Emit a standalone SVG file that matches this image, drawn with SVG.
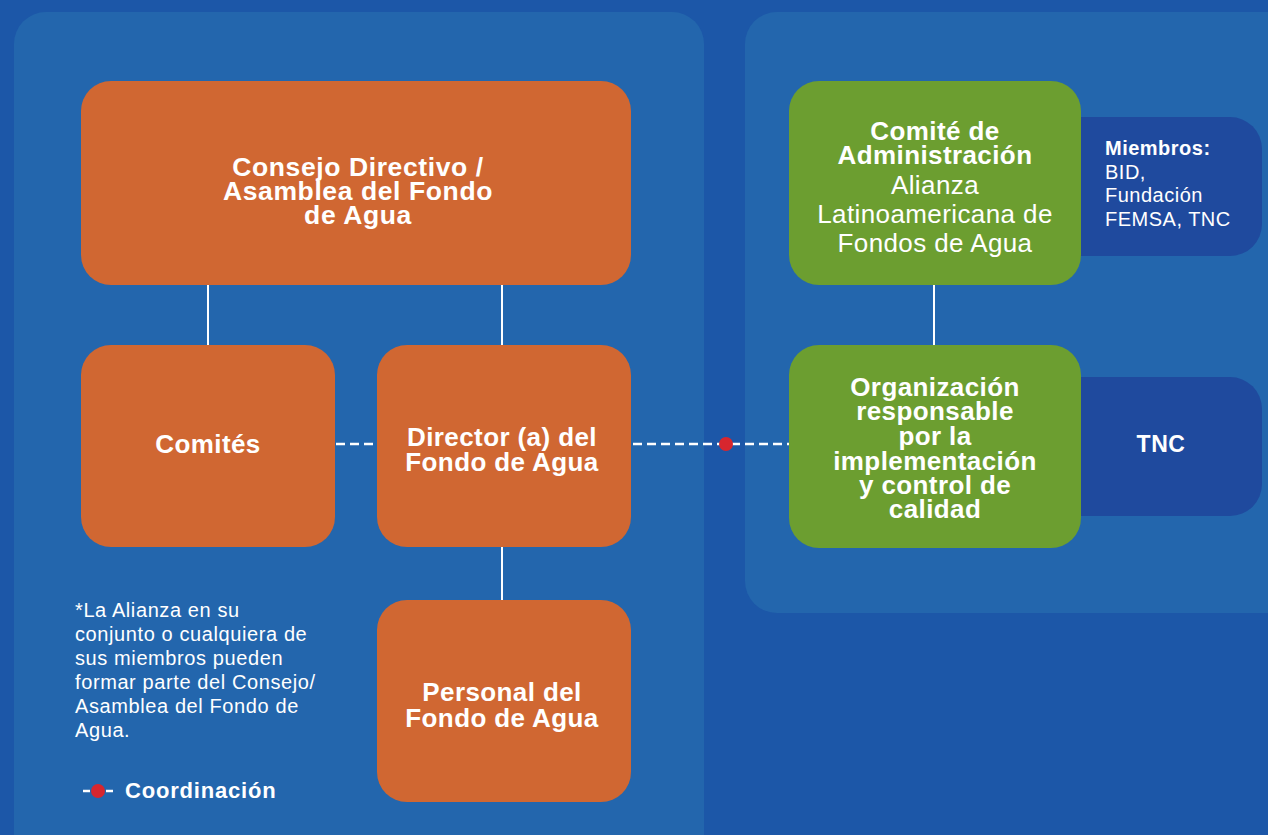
<svg xmlns="http://www.w3.org/2000/svg" width="1268" height="835" viewBox="0 0 1268 835">
<style>
.panel{fill:#2366ad}
.org{fill:#d06732}
.grn{fill:#6c9e30}
.dk{fill:#1f4a9e}
.t{font-family:"Liberation Sans",Arial,sans-serif;fill:#ffffff}
.b{font-weight:bold}
.c{text-anchor:middle}
.solid{stroke:#ffffff;stroke-width:2;fill:none}
.dash{stroke:#ffffff;stroke-width:2.5;fill:none;stroke-dasharray:9 5}
</style>
<rect x="0" y="0" width="1268" height="835" fill="#1c57a8"/>
<g id="panel-left"><rect class="panel" x="14" y="12" width="690" height="860" rx="32"/></g>
<g id="panel-right"><rect class="panel" x="745" y="12" width="560" height="601" rx="32"/></g>
<g id="connectors">
<line class="solid" x1="208" y1="285" x2="208" y2="345"/>
<line class="solid" x1="502" y1="285" x2="502" y2="345"/>
<line class="solid" x1="502" y1="547" x2="502" y2="600"/>
<line class="solid" x1="934" y1="285" x2="934" y2="345"/>
<line class="dash" x1="336" y1="444" x2="377" y2="444"/>
<line class="dash" x1="633" y1="444" x2="789" y2="444"/>
<circle cx="726" cy="444" r="7" fill="#d7262e"/>
</g>
<g id="miembros">
<rect class="dk" x="1040" y="117" width="222" height="139" rx="32"/>
<text class="t" font-size="20" letter-spacing="0.5"><tspan class="b" x="1105" y="155">Miembros:</tspan><tspan x="1105" y="179">BID,</tspan><tspan x="1105" y="202">Fundación</tspan><tspan x="1105" y="226">FEMSA, TNC</tspan></text>
</g>
<g id="tnc">
<rect class="dk" x="1040" y="377" width="222" height="139" rx="32"/>
<text class="t b c" x="1161" y="452" font-size="23" letter-spacing="0.5">TNC</text>
</g>
<g id="consejo">
<rect class="org" x="81" y="81" width="550" height="204" rx="30"/>
<text class="t b c" font-size="26.5" letter-spacing="0.6"><tspan x="358" y="176">Consejo Directivo /</tspan><tspan x="358" y="200">Asamblea  del Fondo</tspan><tspan x="358" y="224">de Agua</tspan></text>
</g>
<g id="comites">
<rect class="org" x="81" y="345" width="254" height="202" rx="30"/>
<text class="t b c" x="208" y="453" font-size="26" letter-spacing="0.4">Comités</text>
</g>
<g id="director">
<rect class="org" x="377" y="345" width="254" height="202" rx="30"/>
<text class="t b c" font-size="26" letter-spacing="0.4"><tspan x="502" y="446">Director (a) del</tspan><tspan x="502" y="471">Fondo de Agua</tspan></text>
</g>
<g id="personal">
<rect class="org" x="377" y="600" width="254" height="202" rx="30"/>
<text class="t b c" font-size="26" letter-spacing="0.4"><tspan x="502" y="701">Personal del</tspan><tspan x="502" y="727">Fondo de Agua</tspan></text>
</g>
<g id="comite-admin">
<rect class="grn" x="789" y="81" width="292" height="204" rx="30"/>
<text class="t c" font-size="26" letter-spacing="0.4"><tspan class="b" x="935" y="140">Comité de</tspan><tspan class="b" x="935" y="164">Administración</tspan><tspan x="935" y="194">Alianza</tspan><tspan x="935" y="223">Latinoamericana de</tspan><tspan x="935" y="252">Fondos de Agua</tspan></text>
</g>
<g id="organizacion">
<rect class="grn" x="789" y="345" width="292" height="203" rx="30"/>
<text class="t b c" font-size="26" letter-spacing="0.4"><tspan x="935" y="396">Organización</tspan><tspan x="935" y="420">responsable</tspan><tspan x="935" y="445">por la</tspan><tspan x="935" y="470">implementación</tspan><tspan x="935" y="494">y control de</tspan><tspan x="935" y="518">calidad</tspan></text>
</g>
<g id="nota">
<text class="t" font-size="20" letter-spacing="0.6"><tspan x="75" y="617">*La Alianza en su</tspan><tspan x="75" y="641">conjunto o cualquiera de</tspan><tspan x="75" y="665">sus miembros pueden</tspan><tspan x="75" y="689">formar parte del Consejo/</tspan><tspan x="75" y="713">Asamblea del Fondo de</tspan><tspan x="75" y="737">Agua.</tspan></text>
</g>
<g id="leyenda">
<line x1="83" y1="791" x2="90" y2="791" stroke="#ffffff" stroke-width="2.5"/>
<line x1="106" y1="791" x2="113" y2="791" stroke="#ffffff" stroke-width="2.5"/>
<circle cx="98" cy="791" r="7" fill="#d7262e"/>
<text class="t b" x="125" y="798" font-size="22" letter-spacing="0.8">Coordinación</text>
</g>
</svg>
